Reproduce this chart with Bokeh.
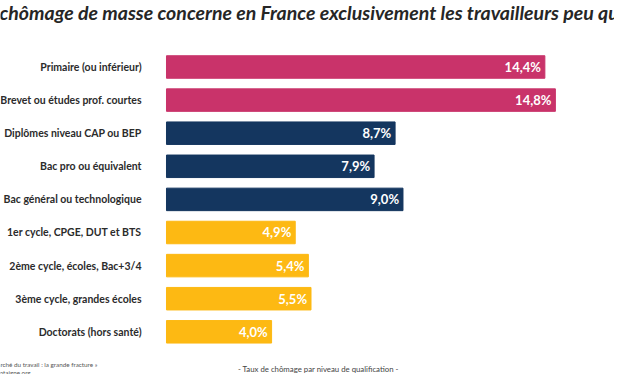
from bokeh.plotting import figure
from bokeh.models import Range1d, ColumnDataSource
from bokeh.core.properties import value
from bokeh.embed import file_html
from bokeh.resources import INLINE

title_text = "Le chômage de masse concerne en France exclusivement les travailleurs peu qualifiés"
categories = [
    "Primaire (ou inférieur)",
    "Brevet ou études prof. courtes",
    "Diplômes niveau CAP ou BEP",
    "Bac pro ou équivalent",
    "Bac général ou technologique",
    "1er cycle, CPGE, DUT et BTS",
    "2ème cycle, écoles, Bac+3/4",
    "3ème cycle, grandes écoles",
    "Doctorats (hors santé)",
]
values = [14.4, 14.8, 8.7, 7.9, 9.0, 4.9, 5.4, 5.5, 4.0]
groups = ["low", "low", "mid", "mid", "mid", "high", "high", "high", "high"]
group_colors = {"low": "#C9336A", "mid": "#14365F", "high": "#FDB913"}
footer_center = "- Taux de chômage par niveau de qualification -"
footer_source = ["Source : « Marché du travail : la grande fracture »", "institutmontaigne.org"]

W, H = 614, 374
p = figure(width=W, height=H, output_backend="svg", toolbar_location=None,
           x_range=Range1d(-6.317, 17.05), y_range=Range1d(9.290, -2.009),
           min_border=0, x_axis_location=None, y_axis_location=None)
p.grid.visible = False
p.outline_line_color = None
p.background_fill_color = "white"
p.border_fill_color = "white"

rows = list(range(len(categories)))
src = ColumnDataSource(dict(
    y=rows, v=values, cat=categories,
    color=[group_colors[g] for g in groups],
    lab=[f"{v:.1f}%".replace(".", ",") for v in values],
    lx=[v - 0.15 for v in values],
    cx=[-0.95] * len(rows),
))

p.hbar(y="y", left=0, right="v", height=0.68, color="color", source=src)

p.text(x="lx", y="y", text="lab", source=src, text_color="white",
       text_font=value("Lato"), text_font_style="bold", text_font_size="13px",
       text_align="right", text_baseline="middle")

p.text(x="cx", y="y", text="cat", source=src, text_color="#2b2b2b",
       text_font=value("Lato"), text_font_style="bold", text_font_size="10.5px",
       text_align="right", text_baseline="middle")

p.text(x=[5.91], y=[-1.647], text=[title_text], text_color="#262626",
       text_font=value("Lato"), text_font_style="bold italic", text_font_size="19.5px",
       text_align="center", text_baseline="middle")

p.text(x=[5.78], y=[9.11], text=[footer_center], text_color="#444444",
       text_font=value("Lato"), text_font_size="7.8px",
       text_align="center", text_baseline="middle")

p.text(x=[-2.63, -5.17], y=[8.99, 9.23], text=footer_source, text_color="#555555",
       text_font=value("Lato"), text_font_size="6.3px",
       text_align="right", text_baseline="middle")

open("out.html", "w").write(file_html(p, INLINE))
